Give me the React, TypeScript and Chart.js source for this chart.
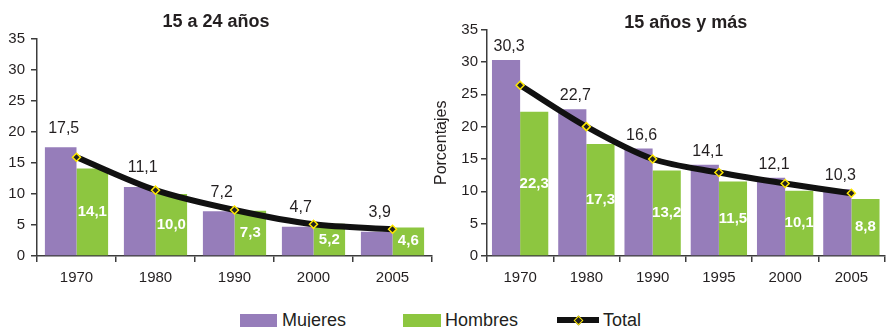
import React, { useEffect, useRef } from "react";
import { Chart, registerables } from "chart.js";
Chart.register(...registerables);

const yearsA = ["1970", "1980", "1990", "2000", "2005"];
const mujeresA = [17.5, 11.1, 7.2, 4.7, 3.9];
const hombresA = [14.1, 10.0, 7.3, 5.2, 4.6];
const totalA = [15.9, 10.6, 7.4, 5.1, 4.3];

const yearsB = ["1970", "1980", "1990", "1995", "2000", "2005"];
const mujeresB = [30.3, 22.7, 16.6, 14.1, 12.1, 10.3];
const hombresB = [22.3, 17.3, 13.2, 11.5, 10.1, 8.8];
const totalB = [26.4, 20.0, 15.0, 12.9, 11.2, 9.7];

const titleA = "15 a 24 años";
const titleB = "15 años y más";
const yTitleB = "Porcentajes";
const legendLabels = ["Mujeres", "Hombres", "Total"];

const PURPLE = "#967DBA";
const GREEN = "#8DC640";
const TEXT = "#231f20";
const AXIS = "#3c3c3c";
const FONT = "'Liberation Sans', Arial, Helvetica, sans-serif";

const fmt = (v: number) => v.toFixed(1).replace(".", ",");

function labelPlugin(offsetAbove: number) {
  return {
    id: "valueLabels",
    afterDatasetsDraw(chart: any) {
      const ctx = chart.ctx;
      ctx.save();
      ctx.textAlign = "center";
      ctx.textBaseline = "middle";
      const m0 = chart.getDatasetMeta(0);
      const d0 = chart.data.datasets[0].data;
      ctx.font = `16px ${FONT}`;
      ctx.fillStyle = TEXT;
      m0.data.forEach((el: any, i: number) => {
        ctx.fillText(fmt(d0[i]), el.x + 3, el.y - offsetAbove);
      });
      const m1 = chart.getDatasetMeta(1);
      const d1 = chart.data.datasets[1].data;
      ctx.font = `bold 15px ${FONT}`;
      ctx.fillStyle = "#ffffff";
      m1.data.forEach((el: any, i: number) => {
        ctx.fillText(fmt(d1[i]), el.x, (el.y + el.base) / 2);
      });
      ctx.restore();
    },
  };
}

type PanelProps = {
  labels: string[];
  mujeres: number[];
  hombres: number[];
  total: number[];
  title: string;
  yTitle?: string;
  yWidth: number;
  yTickPad: number;
  rightPad: number;
  catPct: number;
  titlePad: { top: number; bottom: number };
  titleFull: boolean;
  offsetAbove: number;
  width: number;
  left: number;
};

function Panel(p: PanelProps) {
  const ref = useRef<HTMLCanvasElement>(null);
  useEffect(() => {
    if (!ref.current) return;
    const chart = new Chart(ref.current, {
      type: "bar",
      data: {
        labels: p.labels,
        datasets: [
          {
            type: "bar",
            label: legendLabels[0],
            data: p.mujeres,
            backgroundColor: PURPLE,
            barPercentage: 1,
            categoryPercentage: p.catPct,
            order: 2,
          },
          {
            type: "bar",
            label: legendLabels[1],
            data: p.hombres,
            backgroundColor: GREEN,
            barPercentage: 1,
            categoryPercentage: p.catPct,
            order: 2,
          },
          {
            type: "line",
            label: legendLabels[2],
            data: p.total,
            borderColor: "#111111",
            borderWidth: 6,
            tension: 0.3,
            pointStyle: "rectRot",
            pointRadius: 4,
            pointBackgroundColor: "#222222",
            pointBorderColor: "#FFE800",
            pointBorderWidth: 1.5,
            order: 0,
          } as any,
        ],
      },
      options: {
        responsive: false,
        animation: false,
        devicePixelRatio: 1,
        layout: { padding: { left: 0, right: p.rightPad, top: 0, bottom: 0 } },
        plugins: {
          legend: { display: false },
          tooltip: { enabled: false },
          title: {
            display: true,
            text: p.title,
            fullSize: p.titleFull,
            color: TEXT,
            font: { family: FONT, size: 18, weight: "bold" },
            padding: p.titlePad,
          },
        },
        scales: {
          x: {
            grid: {
              drawOnChartArea: false,
              drawTicks: true,
              tickLength: 6,
              color: AXIS,
              lineWidth: 1.5,
              offset: true,
            },
            border: { display: true, color: AXIS, width: 1.5 },
            ticks: { color: TEXT, font: { family: FONT, size: 15 }, padding: 7 },
            afterFit: (s: any) => {
              s.height = 44;
            },
          },
          y: {
            min: 0,
            max: 35,
            ticks: {
              stepSize: 5,
              color: TEXT,
              font: { family: FONT, size: 15 },
              padding: p.yTickPad,
            },
            grid: {
              drawOnChartArea: false,
              drawTicks: true,
              tickLength: 6,
              color: AXIS,
              lineWidth: 1.5,
            },
            border: { display: true, color: AXIS, width: 1.5 },
            title: p.yTitle
              ? {
                  display: true,
                  text: p.yTitle,
                  color: TEXT,
                  font: { family: FONT, size: 16 },
                  padding: { top: 2, bottom: 0 },
                }
              : { display: false },
            afterFit: (s: any) => {
              s.width = p.yWidth;
            },
          },
        },
      } as any,
      plugins: [labelPlugin(p.offsetAbove)],
    });
    return () => chart.destroy();
  }, []);
  return (
    <canvas
      ref={ref}
      width={p.width}
      height={300}
      style={{ position: "absolute", left: p.left, top: 0, width: p.width, height: 300 }}
    />
  );
}

export default function App() {
  const legendText: React.CSSProperties = {
    position: "absolute",
    top: 309,
    fontFamily: FONT,
    fontSize: 18,
    color: TEXT,
    lineHeight: "22px",
    whiteSpace: "nowrap",
  };
  return (
    <div style={{ position: "absolute", left: 0, top: 0, width: 890, height: 327, overflow: "hidden", background: "#fff" }}>
      <Panel
        labels={yearsA}
        mujeres={mujeresA}
        hombres={hombresA}
        total={totalA}
        title={titleA}
        yWidth={37}
        yTickPad={6}
        rightPad={8}
        catPct={0.8}
        titlePad={{ top: 11, bottom: 6 }}
        titleFull={true}
        offsetAbove={19}
        width={440}
        left={0}
      />
      <Panel
        labels={yearsB}
        mujeres={mujeresB}
        hombres={hombresB}
        total={totalB}
        title={titleB}
        yTitle={yTitleB}
        yWidth={57}
        yTickPad={3}
        rightPad={1}
        catPct={0.85}
        titlePad={{ top: 12, bottom: -4 }}
        titleFull={false}
        offsetAbove={13.5}
        width={460}
        left={430}
      />
      <div style={{ position: "absolute", left: 240, top: 314, width: 37, height: 16, background: PURPLE }} />
      <div style={{ ...legendText, left: 282 }}>{legendLabels[0]}</div>
      <div style={{ position: "absolute", left: 403, top: 314, width: 38, height: 16, background: GREEN }} />
      <div style={{ ...legendText, left: 445 }}>{legendLabels[1]}</div>
      <div style={{ position: "absolute", left: 557, top: 317, width: 42, height: 6, background: "#111" }} />
      <div
        style={{
          position: "absolute",
          left: 575,
          top: 317,
          width: 5,
          height: 5,
          background: "#222",
          border: "1.5px solid #FFE800",
          transform: "rotate(45deg)",
        }}
      />
      <div style={{ ...legendText, left: 603 }}>{legendLabels[2]}</div>
    </div>
  );
}
